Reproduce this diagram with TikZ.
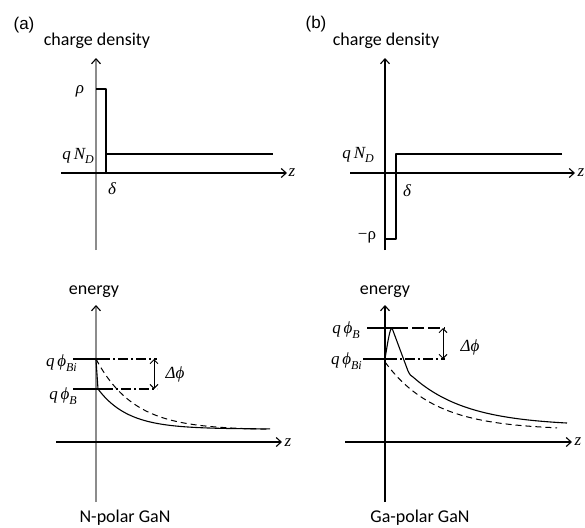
\documentclass[tikz,border=0pt]{standalone}
\usepackage{fontspec}
\setmainfont{Carlito}
\newfontfamily\mf{Liberation Serif}
\newfontfamily\labf{Liberation Sans}
\usetikzlibrary{arrows.meta}
\newcommand\lsub[1]{\raisebox{-0.55ex}{\fontsize{12}{12}\selectfont #1}}
\begin{document}
\begin{tikzpicture}[x=1pt,y=-1pt,
 tip/.style={-{Straight Barb[length=5pt,width=9pt,line width=1.1pt,color=black]}},
 ax/.style={line width=1.1pt, tip},
 gax/.style={line width=2.4pt, draw=black!45, tip},
 curve/.style={line width=1.1pt, line join=round},
 dcurve/.style={line width=1pt, dash pattern=on 6pt off 4pt},
 dd/.style={line width=1.1pt, dash pattern=on 10pt off 3pt on 2pt off 3pt},
 dl/.style={line width=1.1pt, dash pattern=on 12pt off 4pt},
 da/.style={line width=1pt, {Straight Barb[length=4pt,width=8pt]}-{Straight Barb[length=4pt,width=8pt]}},
 txt/.style={font=\fontsize{18}{18}\selectfont, inner sep=0pt},
 plab/.style={font=\labf\fontsize{17}{17}\selectfont, inner sep=0pt},
 mth/.style={font=\mf\itshape\fontsize{17}{17}\selectfont, inner sep=0pt},
]
\path[use as bounding box] (0,0) rectangle (585,527);
% ---------- panel (a) top ----------
\node[plab] (la) at (24,25) {(a)};
\node[txt] (cda) at (97,41) {charge density};
\coordinate (a1b) at (96,250); \coordinate (a1t) at (96,58);
\coordinate (a1l) at (61,173); \coordinate (a1r) at (287,173);
\draw[gax] (a1b) -- (a1t);
\draw[ax] (a1l) -- (a1r);
\draw[curve] (96,89) -- (106,89) -- (106,173);
\draw[curve] (106,154) -- (273,154);
\node[mth] (rhoa) at (80,91) {ρ};
\node[mth, anchor=east] (nda) at (94,156) {q\,N\lsub{D}};
\node[mth] (dela) at (112,189) {δ};
\node[mth] (za) at (292,173) {z};
% ---------- panel (b) top ----------
\node[plab] (lb) at (316,24) {(b)};
\node[txt] (cdb) at (386,41) {charge density};
\coordinate (b1b) at (385,250); \coordinate (b1t) at (385,58);
\coordinate (b1l) at (350,173); \coordinate (b1r) at (575,173);
\draw[ax] (b1b) -- (b1t);
\draw[ax] (b1l) -- (b1r);
\draw[curve] (562,154) -- (396,154) -- (396,239) -- (385,239);
\node[mth, anchor=east] (ndb) at (374,155) {q\,N\lsub{D}};
\node[mth] (delb) at (407,191) {δ};
\node[font=\mf\fontsize{17}{17}\selectfont, inner sep=0pt] (rhob) at (367,237) {−ρ};
\node[mth] (zb) at (581,173) {z};
% ---------- panel (a) bottom ----------
\node[txt] (ena) at (94,292) {energy};
\coordinate (a2b) at (96,502); \coordinate (a2t) at (96,305);
\coordinate (a2l) at (56,442); \coordinate (a2r) at (282,442);
\draw[gax] (a2b) -- (a2t);
\draw[ax] (a2l) -- (a2r);
\draw[curve] (73,359) -- (100,359);
\draw[dd] (100,359) -- (157,359);
\draw[curve] (73,389) -- (103,389);
\draw[dd] (103,389) -- (157,389);
\draw[da] (154,359) -- (154,389);
\draw[curve] (96,360) -- (98,389) -- plot[domain=98:270,samples=80] (\x,{429-40*exp(-(\x-98)/30)});
\draw[dcurve] plot[domain=96:270,samples=80] (\x,{430-71*exp(-(\x-96)/38)});
\node[mth, anchor=east] (pbia) at (77,363) {q\,ϕ\lsub{Bi}};
\node[mth, anchor=east] (pba) at (77,396) {q\,ϕ\lsub{B}};
\node[mth] (dpa) at (175,374) {Δϕ};
\node[mth] (za2) at (288,443) {z};
\node[txt] (npol) at (125,518) {N-polar GaN};
% ---------- panel (b) bottom ----------
\node[txt] (enb) at (385,292) {energy};
\coordinate (b2b) at (385,502); \coordinate (b2t) at (385,305);
\coordinate (b2l) at (345,442); \coordinate (b2r) at (572,442);
\draw[ax] (b2b) -- (b2t);
\draw[ax] (b2l) -- (b2r);
\draw[curve] (367,328) -- (396,328);
\draw[dl] (396,328) -- (445,328);
\draw[curve] (363,359) -- (387,359);
\draw[dd] (387,359) -- (445,359);
\draw[da] (443,328) -- (443,359);
\draw[curve] (385,359) .. controls (388,340) and (390,328) .. (392,328) -- (408,371) .. controls (410,375) and (411,376) .. (413,377) -- plot[domain=413:567,samples=80] (\x,{426-49*exp(-(\x-413)/55)});
\draw[dcurve] plot[domain=385:557,samples=80] (\x,{430-68*exp(-(\x-385)/50)});
\node[mth, anchor=east] (pbb) at (360,330) {q\,ϕ\lsub{B}};
\node[mth, anchor=east] (pbib) at (362,361) {q\,ϕ\lsub{Bi}};
\node[mth] (dpb) at (470,347) {Δϕ};
\node[mth] (zb2) at (578,442) {z};
\node[txt] (gpol) at (420,518) {Ga-polar GaN};
\end{tikzpicture}
\end{document}
